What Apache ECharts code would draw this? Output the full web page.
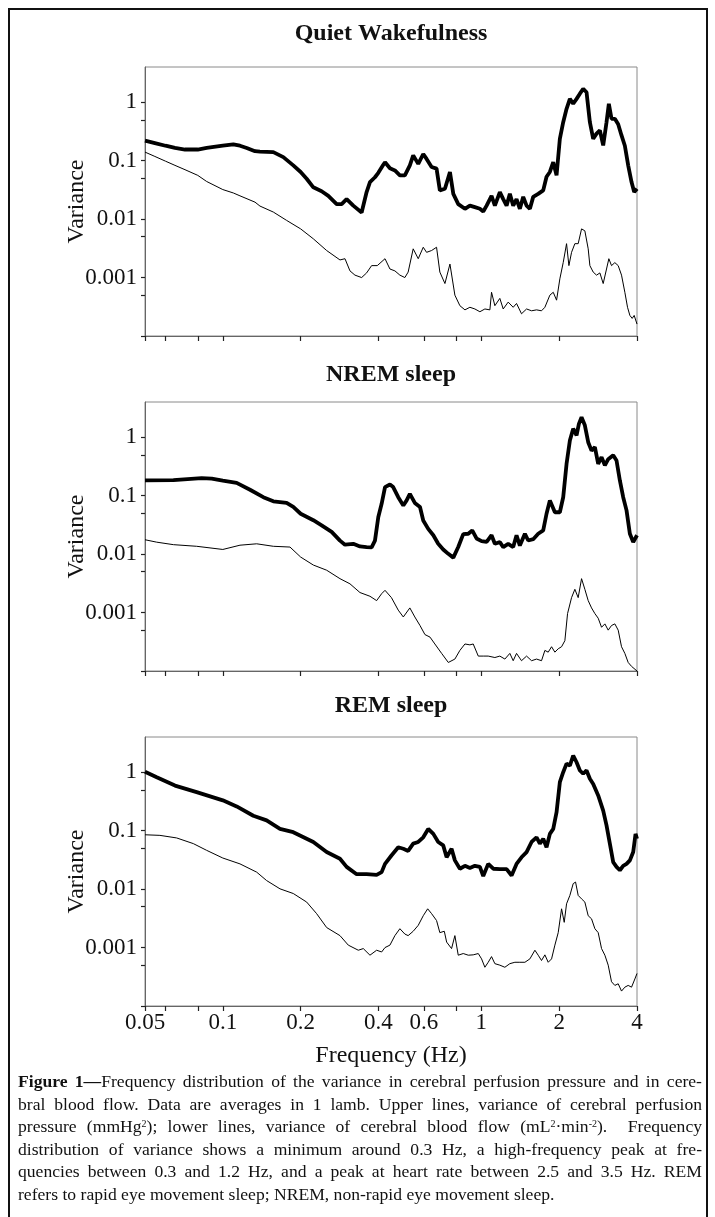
<!DOCTYPE html>
<html>
<head>
<meta charset="utf-8">
<script src="https://cdn.jsdelivr.net/npm/echarts@6/dist/echarts.min.js"></script>
<style>
  html, body { margin: 0; padding: 0; background: #fff; }
  #chart { position: absolute; left: 0; top: 0; width: 715px; height: 1217px; }
  #frame { position: absolute; left: 8px; top: 8px; width: 696px; height: 1240px;
           border: 2px solid #111; border-bottom: none; }
  #caption { position: absolute; left: 18px; top: 1070px; width: 684px;
             font-family: "Liberation Serif", "Times New Roman", serif; font-size: 17.6px;
             line-height: 22.5px; color: #111; }
  #caption div { text-align: justify; text-align-last: justify; }
  #caption div.last { text-align-last: left; }
  #caption sup { font-size: 10px; line-height: 0; vertical-align: 5px; }
</style>
</head>
<body>
<div id="frame"></div>
<div id="chart"></div>
<div id="caption">
  <div><b>Figure 1—</b>Frequency distribution of the variance in cerebral perfusion pressure and in cere-</div>
  <div>bral blood flow. Data are averages in 1 lamb. Upper lines, variance of cerebral perfusion</div>
  <div>pressure (mmHg<sup>2</sup>); lower lines, variance of cerebral blood flow (mL<sup>2</sup>·min<sup>-2</sup>).&nbsp; Frequency</div>
  <div>distribution of variance shows a minimum around 0.3 Hz, a high-frequency peak at fre-</div>
  <div>quencies between 0.3 and 1.2 Hz, and a peak at heart rate between 2.5 and 3.5 Hz. REM</div>
  <div class="last">refers to rapid eye movement sleep; NREM, non-rapid eye movement sleep.</div>
</div>
<script>
(function () {
  var serif = '"Liberation Serif", "Times New Roman", serif';

  var panelTitles = ["Quiet Wakefulness", "NREM sleep", "REM sleep"];
  var xTickValues = [0.05, 0.06, 0.08, 0.1, 0.2, 0.4, 0.6, 0.8, 1, 2, 4];
  var xLabelValues = [0.05, 0.1, 0.2, 0.4, 0.6, 1, 2, 4];
  var yTickValues = [0.0001, 0.0005, 0.001, 0.005, 0.01, 0.05, 0.1, 0.5, 1];
  var yLabelValues = [0.001, 0.01, 0.1, 1];

  // [frequency (Hz), variance] — upper lines: cerebral perfusion pressure
  var qwPressure = [
    [0.05,0.22],[0.0546,0.2],[0.06,0.18],[0.0653,0.165],[0.0714,0.155],[0.08,0.155],[0.0866,0.165],
    [0.1,0.18],[0.1098,0.19],[0.1165,0.18],[0.1237,0.165],[0.1332,0.145],[0.1392,0.143],[0.1568,0.14],
    [0.1714,0.115],[0.1873,0.083],[0.2,0.064],[0.211,0.049],[0.2239,0.035],[0.2411,0.03],[0.2559,0.025],
    [0.2756,0.018],[0.2881,0.018],[0.3012,0.022],[0.3196,0.017],[0.3443,0.013],[0.3599,0.029],
    [0.3708,0.043],[0.3877,0.052],[0.3994,0.062],[0.4175,0.085],[0.424,0.094],
    [0.443,0.074],[0.463,0.068],[0.484,0.056],[0.506,0.056],[0.529,0.083],[0.545,0.123],[0.57,0.088],
    [0.596,0.13],[0.614,0.107],[0.642,0.078],[0.671,0.073],[0.691,0.031],[0.723,0.033],[0.756,0.064],
    [0.779,0.027],[0.814,0.018],[0.864,0.015],[0.903,0.017],[0.944,0.016],[0.987,0.015],[1.017,0.0135],
    [1.048,0.017],[1.095,0.025],[1.128,0.017],[1.179,0.029],[1.215,0.022],[1.252,0.017],[1.289,0.027],
    [1.328,0.017],[1.368,0.022],[1.409,0.015],[1.452,0.024],[1.496,0.017],[1.541,0.015],[1.587,0.024],
    [1.659,0.027],[1.735,0.031],[1.787,0.053],[1.841,0.064],[1.897,0.094],[1.954,0.056],[2.012,0.236],
    [2.073,0.455],[2.136,0.77],[2.2,1.14],[2.266,0.94],[2.335,1.14],[2.405,1.4],[2.477,1.69],[2.552,1.48],
    [2.629,0.455],[2.708,0.236],[2.79,0.29],[2.874,0.33],[2.96,0.182],[3.049,0.455],[3.113,0.94],
    [3.188,0.52],[3.284,0.52],[3.383,0.42],[3.485,0.27],[3.59,0.18],[3.698,0.083],[3.81,0.043],
    [3.901,0.029],[4,0.033]
  ];
  // lower lines: cerebral blood flow
  var qwFlow = [
    [0.05,0.14],[0.0546,0.118],[0.06,0.098],[0.0653,0.083],[0.0714,0.07],[0.08,0.056],[0.0866,0.044],
    [0.1,0.032],[0.1098,0.028],[0.1165,0.025],[0.1332,0.0195],[0.1392,0.0167],[0.1568,0.0132],
    [0.1765,0.0095],[0.2,0.0068],[0.2239,0.0046],[0.2521,0.0029],[0.2839,0.002],[0.2968,0.0021],
    [0.3103,0.0013],[0.3244,0.0011],[0.3443,0.001],[0.3599,0.0012],[0.3763,0.0016],[0.3958,0.0016],
    [0.424,0.0021],[0.443,0.0014],[0.463,0.0013],[0.484,0.0011],[0.506,0.001],[0.521,0.00124],
    [0.545,0.0031],[0.57,0.0021],[0.596,0.0033],[0.614,0.0027],[0.642,0.0029],[0.671,0.0033],
    [0.691,0.00124],[0.723,0.00079],[0.756,0.0017],[0.79,0.0005],[0.826,0.00033],[0.864,0.00028],
    [0.903,0.00031],[0.944,0.00029],[0.987,0.00026],[1.032,0.00029],[1.079,0.00028],[1.095,0.00056],
    [1.128,0.00033],[1.179,0.00044],[1.215,0.00029],[1.27,0.00038],[1.328,0.00031],[1.368,0.00036],
    [1.43,0.00024],[1.496,0.00029],[1.564,0.00027],[1.635,0.00028],[1.709,0.00027],[1.761,0.00031],
    [1.841,0.0005],[1.897,0.00056],[1.954,0.00041],[2.012,0.00095],[2.073,0.0018],[2.136,0.0038],
    [2.181,0.0016],[2.233,0.0027],[2.3,0.0038],[2.369,0.0038],[2.441,0.0068],[2.514,0.0063],
    [2.59,0.0031],[2.629,0.0016],[2.708,0.00124],[2.79,0.0011],[2.874,0.0012],[2.96,0.00079],
    [3.049,0.0014],[3.113,0.0021],[3.188,0.0016],[3.284,0.0018],[3.383,0.0016],[3.485,0.0011],
    [3.59,0.00056],[3.676,0.00031],[3.754,0.000225],[3.832,0.0002],[3.901,0.000225],[4,0.00016]
  ];

  var nremPressure = [
    [0.05,0.182],[0.0644,0.185],[0.0828,0.2],[0.0906,0.195],[0.1,0.18],[0.1131,0.165],[0.1274,0.126],
    [0.1434,0.094],[0.1568,0.08],[0.1765,0.075],[0.1873,0.064],[0.2,0.049],[0.2239,0.038],[0.2411,0.031],
    [0.2636,0.024],[0.2839,0.017],[0.2968,0.0145],[0.3196,0.015],[0.3392,0.0135],[0.3599,0.0132],
    [0.3763,0.013],[0.3877,0.017],[0.3994,0.043],[0.4114,0.0725],[0.424,0.14],[0.443,0.155],
    [0.456,0.14],[0.477,0.094],[0.499,0.068],[0.514,0.083],[0.529,0.107],[0.553,0.075],[0.579,0.064],
    [0.596,0.0376],[0.623,0.027],[0.652,0.021],[0.681,0.015],[0.712,0.012],[0.745,0.0101],[0.779,0.0087],
    [0.814,0.0132],[0.851,0.022],[0.89,0.0223],[0.922,0.0254],[0.958,0.0185],[1.002,0.0167],
    [1.048,0.0162],[1.095,0.021],[1.128,0.015],[1.179,0.016],[1.215,0.0132],[1.27,0.015],[1.328,0.0132],
    [1.368,0.021],[1.409,0.014],[1.474,0.0223],[1.518,0.0171],[1.587,0.018],[1.659,0.0223],
    [1.735,0.0254],[1.787,0.049],[1.841,0.083],[1.925,0.052],[2.012,0.052],[2.073,0.094],[2.136,0.35],
    [2.2,0.877],[2.266,1.4],[2.335,1.07],[2.384,1.69],[2.441,2.2],[2.514,1.6],[2.59,0.82],[2.668,0.59],
    [2.749,0.675],[2.831,0.35],[2.917,0.455],[3.005,0.33],[3.095,0.42],[3.236,0.49],[3.333,0.4],
    [3.434,0.182],[3.537,0.094],[3.644,0.056],[3.754,0.0223],[3.867,0.016],[4,0.021]
  ];
  var nremFlow = [
    [0.05,0.0176],[0.0555,0.016],[0.0644,0.0145],[0.0792,0.0136],[0.1,0.012],[0.1165,0.0142],
    [0.1352,0.015],[0.1568,0.0136],[0.1819,0.0132],[0.2,0.0089],[0.2239,0.0065],[0.2521,0.0053],
    [0.2839,0.0038],[0.3103,0.0031],[0.3392,0.0022],[0.3708,0.0019],[0.3935,0.0016],[0.4114,0.0021],
    [0.424,0.0024],[0.449,0.0018],[0.477,0.0011],[0.499,0.00084],[0.529,0.0012],[0.553,0.00084],
    [0.579,0.0006],[0.605,0.00042],[0.633,0.00038],[0.661,0.00029],[0.702,0.0002],[0.745,0.00014],
    [0.79,0.00016],[0.826,0.000225],[0.864,0.00029],[0.903,0.00028],[0.93,0.00029],[0.973,0.00018],
    [1.017,0.00018],[1.063,0.00018],[1.128,0.00017],[1.179,0.00018],[1.233,0.00016],[1.289,0.0002],
    [1.328,0.00015],[1.368,0.0002],[1.43,0.00015],[1.496,0.00018],[1.564,0.00015],[1.635,0.00016],
    [1.709,0.00015],[1.761,0.000225],[1.814,0.00021],[1.869,0.00026],[1.925,0.00021],[1.983,0.00024],
    [2.043,0.00026],[2.104,0.00033],[2.155,0.00096],[2.233,0.0018],[2.3,0.0025],[2.369,0.0018],
    [2.441,0.0038],[2.514,0.0025],[2.59,0.0016],[2.668,0.0012],[2.749,0.00096],[2.831,0.0008],
    [2.917,0.00056],[3.005,0.00064],[3.095,0.0005],[3.188,0.0006],[3.284,0.00064],[3.383,0.0005],
    [3.485,0.00026],[3.59,0.0002],[3.698,0.00014],[3.81,0.00012],[4,0.0001]
  ];

  var remPressure = [
    [0.05,1.02],[0.0555,0.82],[0.0653,0.59],[0.0792,0.455],[0.1,0.33],[0.1131,0.26],[0.1312,0.18],
    [0.1477,0.15],[0.1664,0.107],[0.1873,0.094],[0.2239,0.064],[0.2521,0.043],[0.2839,0.033],
    [0.3012,0.024],[0.3293,0.018],[0.3599,0.018],[0.3935,0.0175],[0.4114,0.0195],[0.424,0.027],
    [0.449,0.0376],[0.477,0.052],[0.499,0.049],[0.521,0.045],[0.545,0.06],[0.57,0.064],[0.596,0.077],
    [0.623,0.107],[0.652,0.088],[0.681,0.064],[0.712,0.056],[0.734,0.035],[0.767,0.049],[0.79,0.031],
    [0.826,0.0223],[0.864,0.025],[0.903,0.023],[0.944,0.025],[0.987,0.024],[1.017,0.0167],[1.063,0.027],
    [1.112,0.0223],[1.179,0.022],[1.252,0.022],[1.309,0.0171],[1.368,0.027],[1.43,0.035],[1.496,0.043],
    [1.564,0.064],[1.635,0.077],[1.684,0.06],[1.735,0.0725],[1.787,0.052],[1.841,0.088],[1.897,0.107],
    [1.954,0.207],[2.012,0.675],[2.073,1.0],[2.136,1.4],[2.2,1.3],[2.266,1.93],[2.335,1.48],[2.405,1.07],
    [2.477,0.94],[2.552,1.07],[2.629,0.77],[2.708,0.63],[2.831,0.4],[2.96,0.22],[3.049,0.123],
    [3.141,0.06],[3.236,0.029],[3.333,0.024],[3.434,0.021],[3.537,0.025],[3.644,0.027],[3.754,0.031],
    [3.867,0.043],[3.948,0.088],[4,0.0725]
  ];
  var remFlow = [
    [0.05,0.085],[0.0571,0.083],[0.0663,0.075],[0.0769,0.06],[0.0866,0.046],[0.1,0.034],[0.1165,0.027],
    [0.1352,0.0195],[0.1477,0.014],[0.1664,0.0101],[0.1873,0.0084],[0.211,0.006],[0.2306,0.0038],
    [0.2521,0.0022],[0.2839,0.0016],[0.3057,0.0011],[0.3342,0.0009],[0.3494,0.00096],[0.3708,0.00074],
    [0.3935,0.0009],[0.4114,0.00084],[0.424,0.001],[0.443,0.0011],[0.463,0.0016],[0.484,0.0021],
    [0.506,0.0017],[0.521,0.0016],[0.545,0.0019],[0.57,0.0024],[0.596,0.0035],[0.62,0.0046],
    [0.642,0.0038],[0.671,0.0029],[0.691,0.0018],[0.719,0.0019],[0.734,0.00124],[0.767,0.00096],
    [0.79,0.0016],[0.814,0.00074],[0.851,0.00079],[0.89,0.00074],[0.93,0.00075],[0.973,0.00079],
    [1.002,0.00064],[1.032,0.00046],[1.063,0.00056],[1.095,0.0007],[1.128,0.00053],[1.179,0.0005],
    [1.233,0.00046],[1.289,0.00053],[1.348,0.00056],[1.409,0.00056],[1.474,0.00056],[1.541,0.00064],
    [1.611,0.0009],[1.659,0.00074],[1.709,0.0006],[1.761,0.00075],[1.814,0.00056],[1.869,0.00064],
    [1.925,0.0011],[1.983,0.0018],[2.043,0.0046],[2.092,0.0027],[2.136,0.0056],[2.2,0.0078],
    [2.266,0.0124],[2.314,0.0132],[2.369,0.0078],[2.441,0.0068],[2.514,0.006],[2.59,0.0035],
    [2.668,0.0031],[2.749,0.0021],[2.831,0.0018],[2.917,0.00096],[3.005,0.00074],[3.095,0.0005],
    [3.188,0.00026],[3.284,0.000225],[3.383,0.00024],[3.485,0.00018],[3.59,0.00021],[3.698,0.000225],
    [3.81,0.00021],[3.925,0.00029],[4,0.00036]
  ];

  var panels = [
    { pressure: qwPressure, flow: qwFlow },
    { pressure: nremPressure, flow: nremFlow },
    { pressure: remPressure, flow: remFlow }
  ];

  var gridTops = [67, 402, 737];
  var titleTops = [22, 363, 694];
  var plotLeft = 145, plotWidth = 492, plotHeight = 269;

  function fmt(v) {
    return String(Number(v.toPrecision(6)));
  }

  var option = {
    animation: false,
    backgroundColor: "transparent",
    title: [],
    grid: [],
    xAxis: [],
    yAxis: [],
    series: []
  };

  panels.forEach(function (panel, i) {
    var last = i === panels.length - 1;
    option.title.push({
      text: panelTitles[i],
      left: plotLeft + plotWidth / 2,
      top: titleTops[i],
      textAlign: "center",
      padding: 0,
      textStyle: { fontFamily: serif, fontWeight: "bold", fontSize: 24, color: "#111" }
    });
    option.grid.push({
      left: plotLeft, top: gridTops[i], width: plotWidth, height: plotHeight,
      show: true, borderColor: "#8a8a8a", borderWidth: 1, backgroundColor: "transparent"
    });
    option.xAxis.push({
      type: "log", logBase: 10, gridIndex: i, min: 0.05, max: 4,
      name: last ? "Frequency (Hz)" : "",
      nameLocation: "middle", nameGap: 38, nameMoveOverlap: false,
      nameTextStyle: { fontFamily: serif, fontSize: 24, color: "#111" },
      axisLine: { lineStyle: { color: "#666", width: 1 } },
      axisTick: { customValues: xTickValues, inside: false, length: 5, lineStyle: { color: "#222", width: 1.2 } },
      axisLabel: {
        show: last, customValues: xLabelValues, formatter: fmt, margin: 5,
        fontFamily: serif, fontSize: 23, color: "#111"
      },
      splitLine: { show: false },
      minorTick: { show: false }
    });
    option.yAxis.push({
      type: "log", logBase: 10, gridIndex: i, min: 0.0001, max: 4,
      name: "Variance", nameLocation: "middle", nameRotate: 90, nameGap: 56, nameMoveOverlap: false,
      nameTextStyle: { fontFamily: serif, fontSize: 24, color: "#111" },
      axisLine: { lineStyle: { color: "#666", width: 1 } },
      axisTick: { customValues: yTickValues, inside: false, length: 4, lineStyle: { color: "#222", width: 1.2 } },
      axisLabel: {
        customValues: yLabelValues, formatter: fmt, margin: 8,
        fontFamily: serif, fontSize: 23, color: "#111"
      },
      splitLine: { show: false },
      minorTick: { show: false }
    });
    option.series.push({
      type: "line", xAxisIndex: i, yAxisIndex: i, data: panel.pressure,
      showSymbol: false, silent: true, lineStyle: { color: "#000", width: 3.8 }
    });
    option.series.push({
      type: "line", xAxisIndex: i, yAxisIndex: i, data: panel.flow,
      showSymbol: false, silent: true, lineStyle: { color: "#000", width: 1 }
    });
  });

  var chart = echarts.init(document.getElementById("chart"), null, { renderer: "canvas" });
  chart.setOption(option);
})();
</script>
</body>
</html>
